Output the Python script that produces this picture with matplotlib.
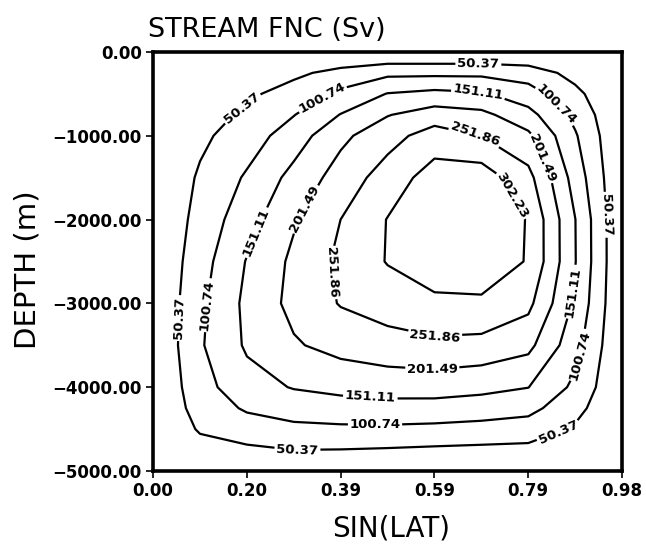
import numpy as np
import matplotlib
matplotlib.use("Agg")
import matplotlib.pyplot as plt

# meridional overturning stream function, sin(latitude) x depth
sin_lat = [0.0, 0.0985, 0.197, 0.2954, 0.3939, 0.4924, 0.5909, 0.6894, 0.7878, 0.8863, 0.9848]
depth = [0, -250, -500, -750, -1000, -1500, -2000, -2500, -3000, -3500, -4000, -4250, -4500, -4750, -5000]

psi = [
    [0, 0, 0, 0, 0, 0, 0, 0, 0, 0, 0],
    [0, 8, 21, 40, 66, 89, 89, 89, 77, 34, 0],
    [0, 17, 41, 71, 112, 153, 165, 157, 123, 63, 0],
    [0, 27, 60, 99, 153, 199, 226, 215, 168, 87, 0],
    [0, 40, 76, 126, 190, 233, 275, 251, 212, 106, 0],
    [0, 57, 107, 167, 223, 275, 325, 330, 268, 130, 0],
    [0, 68, 131, 196, 252, 304, 333, 332, 300, 152, 0],
    [0, 80, 154, 212, 263, 305, 325, 322, 300, 153, 0],
    [0, 90, 163, 216, 255, 274, 294, 297, 265, 142, 0],
    [0, 95, 158, 196, 219, 233, 240, 235, 215, 119, 0],
    [0, 82, 132, 154, 165, 171, 173, 165, 152, 90, 0],
    [0, 72, 107, 123, 130, 134, 132, 126, 116, 67, 0],
    [0, 56, 77, 89, 92, 92, 89, 84, 77, 44, 0],
    [0, 31, 41, 50, 49, 46, 42, 39, 37, 22, 0],
    [0, 0, 0, 0, 0, 0, 0, 0, 0, 0, 0],
]

levels = [50.37, 100.74, 151.11, 201.49, 251.86, 302.23]

# where the inline labels sit (sin lat, depth)
label_spots = [
    (0.683, -95), (0.193, -716), (0.046, -3174), (0.303, -4750), (0.851, -4535), (0.945, -1945),
    (0.351, -513), (0.840, -668), (0.109, -3019), (0.893, -3616), (0.466, -4451),
    (0.683, -477), (0.214, -2148), (0.456, -4129), (0.882, -2864),
    (0.315, -1862), (0.817, -1265), (0.586, -3819),
    (0.676, -990), (0.368, -2637), (0.592, -3401),
    (0.754, -1706),
]

plt.rcParams['font.family'] = ['DejaVu Sans']

fig = plt.figure(figsize=(6.46, 5.50), dpi=100)
ax = fig.add_axes([0.237, 0.1436, 0.726, 0.762])

X, Y = np.meshgrid(sin_lat, depth)
cs = ax.contour(X, Y, np.array(psi), levels=levels, colors='black', linewidths=1.6)
ax.clabel(cs, fmt='%.2f', inline=True, inline_spacing=4, fontsize=9.5,
          manual=label_spots)
for t in cs.labelTexts:
    t.set_fontweight('bold')

ax.set_xlim(0, sin_lat[-1])
ax.set_ylim(-5000, 0)

xt = np.linspace(0, sin_lat[-1], 6)
ax.set_xticks(xt)
ax.set_xticklabels(['%.2f' % v for v in xt])
yt = [0, -1000, -2000, -3000, -4000, -5000]
ax.set_yticks(yt)
ax.set_yticklabels([('%.2f' % v).replace('-', '\u2212') for v in yt])
ax.tick_params(direction='out', length=5, width=1.2, labelsize=12, pad=3)
for lab in ax.get_xticklabels() + ax.get_yticklabels():
    lab.set_fontweight('bold')

for sp in ax.spines.values():
    sp.set_linewidth(2.6)

fig.text(0.229, 0.933, 'STREAM FNC (Sv)', fontsize=19.5, ha='left', va='baseline')
fig.text(0.043, 0.509, 'DEPTH (m)', fontsize=21, rotation=90, ha='center', va='center')
fig.text(0.605, 0.040, 'SIN(LAT)', fontsize=20, ha='center', va='center')

fig.savefig('out.png', dpi=100)
